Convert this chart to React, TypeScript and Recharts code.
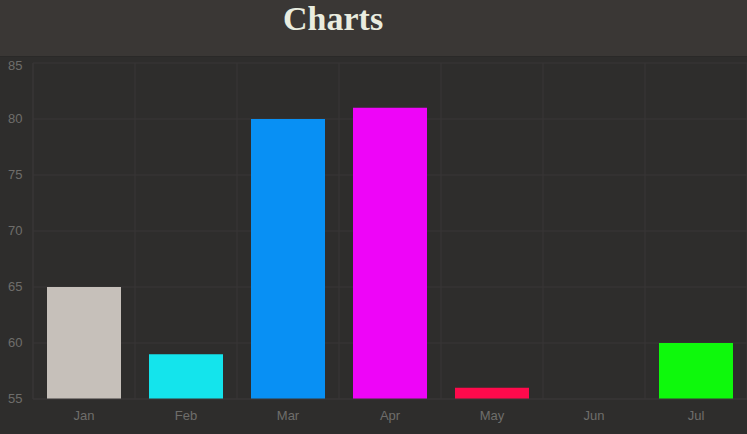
import { BarChart, Bar, Cell, XAxis, YAxis, CartesianGrid } from 'recharts';

const months = ['Jan', 'Feb', 'Mar', 'Apr', 'May', 'Jun', 'Jul'];
const values = [65, 59, 80, 81, 56, 55, 60];
const barColors = ['#c6c0ba', '#14e4ec', '#0890f4', '#ee05f8', '#ff0a4c', '#9a9a9a', '#0ef90c'];
const yTicks = [55, 60, 65, 70, 75, 80, 85];

const data = months.map((m, i) => ({ month: m, value: values[i] }));

const gridColor = '#383736';
const labelColor = '#6e6d6b';

function YTick({ y, payload }: any) {
  return (
    <text x={8} y={y} dy={4} fill={labelColor} fontSize={13} fontFamily="Liberation Sans, Arial, sans-serif">
      {payload.value}
    </text>
  );
}

function XTick({ x, y, payload }: any) {
  return (
    <text x={x} y={y} dy={13} textAnchor="middle" fill={labelColor} fontSize={13} fontFamily="Liberation Sans, Arial, sans-serif">
      {payload.value}
    </text>
  );
}

// vertical grid at category boundaries rather than centres
const boundaries = ({ offset }: any) =>
  Array.from({ length: months.length + 1 }, (_, i) => offset.left + (i * offset.width) / months.length);

export default function App() {
  return (
    <div
      style={{
        position: 'absolute',
        top: 0,
        left: 0,
        width: 747,
        height: 434,
        background: '#2e2d2c',
        overflow: 'hidden',
      }}
    >
      <div
        style={{
          height: 57,
          background: '#3a3735',
          color: '#e9ecdf',
          fontFamily: '"Liberation Serif", "Times New Roman", serif',
          fontWeight: 'bold',
          fontSize: 34,
          lineHeight: '38px',
          paddingLeft: 283,
          borderBottom: '1px solid #2a2928',
          boxSizing: 'border-box',
        }}
      >
        Charts
      </div>
      <BarChart
        width={747}
        height={377}
        data={data}
        margin={{ top: 6, right: 0, left: 0, bottom: 0 }}
        barCategoryGap={14}
      >
        <CartesianGrid stroke={gridColor} verticalCoordinatesGenerator={boundaries} />
        <XAxis
          dataKey="month"
          height={35}
          tick={<XTick />}
          tickLine={false}
          axisLine={{ stroke: gridColor }}
          interval={0}
        />
        <YAxis
          width={33}
          domain={[55, 85]}
          ticks={yTicks}
          allowDataOverflow
          tick={<YTick />}
          tickLine={false}
          axisLine={{ stroke: gridColor }}
        />
        <Bar dataKey="value" isAnimationActive={false}>
          {data.map((d, i) => (
            <Cell key={d.month} fill={barColors[i]} />
          ))}
        </Bar>
      </BarChart>
    </div>
  );
}
